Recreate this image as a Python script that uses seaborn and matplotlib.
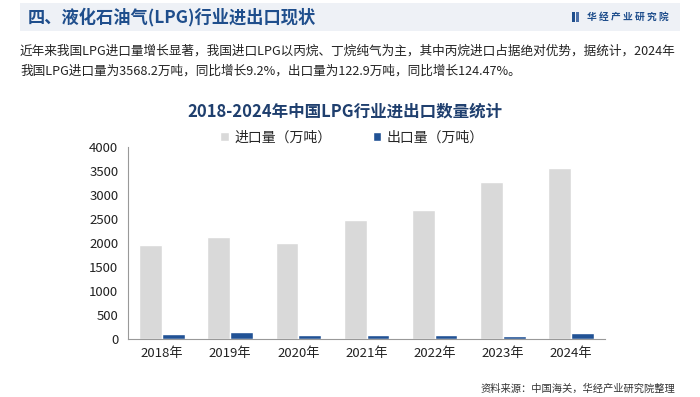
import matplotlib
matplotlib.use("Agg")
import matplotlib.pyplot as plt
import seaborn as sns
import pandas as pd
from matplotlib.patches import Rectangle

years = ["2018年", "2019年", "2020年", "2021年", "2022年", "2023年", "2024年"]
imports = [1960, 2115, 2000, 2485, 2690, 3268, 3568.2]
exports = [110, 150, 90, 90, 90, 54.8, 122.9]
series_names = ["进口量（万吨）", "出口量（万吨）"]
y_ticks = [0, 500, 1000, 1500, 2000, 2500, 3000, 3500, 4000]

sns.set_theme(style="white")
plt.rcParams['font.family'] = ['Noto Sans CJK SC', 'DejaVu Sans']

df = pd.DataFrame({
    "year": years * 2,
    "value": imports + exports,
    "series": [series_names[0]] * len(years) + [series_names[1]] * len(years),
})

fig = plt.figure(figsize=(7, 3.97), dpi=100)
fig.patch.set_facecolor("white")

# header band
fig.patches.append(Rectangle((20/700, 1-31/397), 660/700, 28/397, transform=fig.transFigure,
                             facecolor="#eef1f6", edgecolor="none", zorder=0))
fig.text(28/700, 1-17/397, "四、液化石油气(LPG)行业进出口现状", fontsize=12.4, fontweight="bold",
         color="#1f4e8c", va="center", ha="left")
fig.patches.append(Rectangle((572/700, 1-22/397), 2.5/700, 10/397, transform=fig.transFigure,
                             facecolor="#1f4e8c", edgecolor="none"))
fig.patches.append(Rectangle((576/700, 1-22/397), 2.5/700, 10/397, transform=fig.transFigure,
                             facecolor="#4a6fa8", edgecolor="none"))
fig.text(587/700, 1-17/397, "华 经 产 业 研 究 院", fontsize=7, fontweight="bold",
         color="#1f4e8c", va="center", ha="left")

fig.text(20/700, 1-51/397,
         "近年来我国LPG进口量增长显著，我国进口LPG以丙烷、丁烷纯气为主，其中丙烷进口占据绝对优势，据统计，2024年",
         fontsize=9.1, color="#222222", va="center", ha="left")
fig.text(20/700, 1-71/397,
         "我国LPG进口量为3568.2万吨，同比增长9.2%，出口量为122.9万吨，同比增长124.47%。",
         fontsize=9.1, color="#222222", va="center", ha="left")

fig.text(345/700, 1-112/397, "2018-2024年中国LPG行业进出口数量统计", fontsize=11.9,
         fontweight="bold", color="#1f3f6e", va="center", ha="center")

fig.text(675/700, 1-389/397, "资料来源：中国海关，华经产业研究院整理", fontsize=7.4,
         color="#333333", va="center", ha="right")

ax = fig.add_axes([128/700, 1-339/397, 477/700, 192/397])
ax.set_facecolor("none")
sns.barplot(data=df, x="year", y="value", hue="series", order=years, hue_order=series_names,
            palette=["#d9d9d9", "#215295"], width=0.667, gap=0, ax=ax, saturation=1,
            errorbar=None)

ax.set_xlim(-0.5, len(years) - 0.5)
ax.set_ylim(0, 4000)
ax.set_yticks(y_ticks)
ax.set_yticklabels([str(v) for v in y_ticks], fontsize=9.5, color="#222222")
ax.set_xlabel("")
ax.set_ylabel("")
ax.tick_params(axis="x", length=0, labelsize=9.5, labelcolor="#222222", pad=6)
ax.set_xticks([i - 0.5 for i in range(len(years) + 1)], minor=True)
ax.tick_params(axis="x", which="minor", length=4, color="#999999", width=0.8, direction="out")
ax.tick_params(axis="y", length=4, color="#999999", width=0.8, direction="out", pad=3)
for s in ["top", "right"]:
    ax.spines[s].set_visible(False)
for s in ["left", "bottom"]:
    ax.spines[s].set_color("#999999")
    ax.spines[s].set_linewidth(0.8)
ax.grid(False)

handles, labels = ax.get_legend_handles_labels()
ax.legend(handles, labels, loc="center", bbox_to_anchor=(0.47, 1.05), ncol=2, frameon=False,
          fontsize=10, handlelength=0.6, handleheight=0.6, handletextpad=0.4, columnspacing=3.0)

fig.savefig("out.png", dpi=100, facecolor="white")
